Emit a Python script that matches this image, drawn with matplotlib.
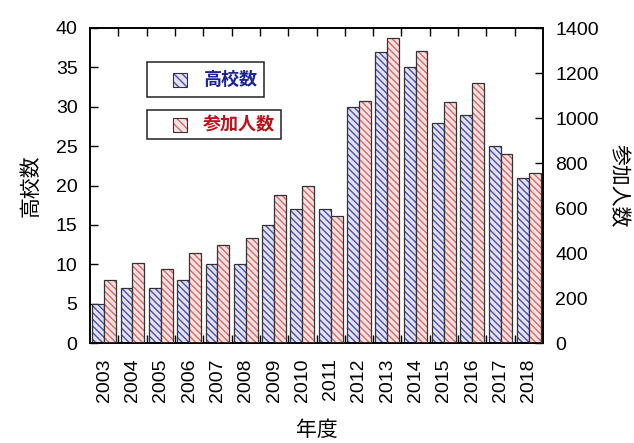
import matplotlib
matplotlib.use("Agg")
import matplotlib.pyplot as plt
import matplotlib.patches as mpatches
import numpy as np

plt.rcParams['font.family'] = ['Liberation Sans', 'Noto Sans CJK JP', 'DejaVu Sans']

years = [str(y) for y in range(2003, 2019)]
schools = [5, 7, 7, 8, 10, 10, 15, 17, 17, 30, 37, 35, 28, 29, 25, 21]
participants = [280, 355, 330, 400, 435, 465, 660, 700, 565, 1075, 1355, 1300, 1070, 1155, 840, 757]

school_label = "高校数"
part_label = "参加人数"
x_label = "年度"

blue_fill = "#e2e2f6"
blue_hatch = "#4e4ea6"
red_fill = "#fbe0e0"
red_hatch = "#cf6c6c"
edge = "#333333"
HATCH = "\\\\\\\\\\"
CJK = ['Noto Sans CJK JP']

W, H = 634, 443
fig = plt.figure(figsize=(W / 100, H / 100), dpi=100)
ax = fig.add_axes([90 / W, 1 - 343 / H, 453 / W, 315 / H])
ax2 = ax.twinx()

x = np.arange(len(years))
w = 0.42


def hatched_bars(axis, xs, vals, fill, hcolor):
    axis.bar(xs, vals, w, align="edge", color=fill, edgecolor=hcolor,
             hatch=HATCH, linewidth=0, zorder=2)
    axis.bar(xs, vals, w, align="edge", facecolor="none", edgecolor=edge,
             linewidth=0.9, zorder=3)


hatched_bars(ax, x - w, schools, blue_fill, blue_hatch)
hatched_bars(ax2, x, participants, red_fill, red_hatch)

ax.set_xlim(-0.5, len(years) - 0.5)
ax.set_ylim(0, 40)
ax2.set_ylim(0, 1400)
ax.set_yticks(np.arange(0, 41, 5))
ax2.set_yticks(np.arange(0, 1401, 200))

ax.set_xticks(x)
ax.set_xticklabels(years, rotation=90, fontsize=14)
ax.set_xticks(np.arange(0.5, len(years) - 1, 1.0), minor=True)
ax.tick_params(axis="x", which="major", length=0, pad=11)
ax.tick_params(axis="x", which="minor", direction="in", length=6, width=1,
               top=True, bottom=True)
ax.tick_params(axis="y", direction="in", length=6, width=1, labelsize=14, pad=9)
ax2.tick_params(axis="y", direction="in", length=6, width=1, labelsize=14, pad=9)
ax2.tick_params(axis="x", which="both", length=0)

for a in (ax, ax2):
    for s in a.spines.values():
        s.set_linewidth(1.2)

ax.set_ylabel(school_label, fontsize=15, family=CJK, labelpad=10)
ax2.set_ylabel(part_label, fontsize=15, family=CJK, rotation=-90, labelpad=22)
ax.set_xlabel(x_label, fontsize=15, family=CJK, labelpad=12)


# legend boxes, placed in figure pixel units
def fx(px):
    return px / W


def fy(py):
    return 1 - py / H


def legend_box(x0, y0, x1, y1, fill, hcolor, text, tcolor, text_x):
    fig.patches.append(mpatches.Rectangle(
        (fx(x0), fy(y1)), fx(x1) - fx(x0), fy(y0) - fy(y1),
        transform=fig.transFigure, facecolor="white", edgecolor="#222222",
        linewidth=1.1, zorder=5))
    yc = (y0 + y1) / 2
    fig.patches.append(mpatches.Rectangle(
        (fx(173), fy(yc + 7)), fx(14), 14 / H,
        transform=fig.transFigure, facecolor=fill, edgecolor=hcolor,
        hatch="\\\\\\\\", linewidth=0, zorder=6))
    fig.patches.append(mpatches.Rectangle(
        (fx(173), fy(yc + 7)), fx(14), 14 / H,
        transform=fig.transFigure, facecolor="none", edgecolor=edge,
        linewidth=0.8, zorder=7))
    fig.text(fx(text_x), fy(yc), text, color=tcolor, fontsize=13,
             family=CJK, fontweight="bold", ha="left", va="center", zorder=8)


legend_box(147, 62, 264, 97, blue_fill, blue_hatch, school_label, "#1c2394", 204)
legend_box(147, 110, 281, 139, red_fill, red_hatch, part_label, "#c0101c", 203)

fig.savefig("out.png", dpi=100)
